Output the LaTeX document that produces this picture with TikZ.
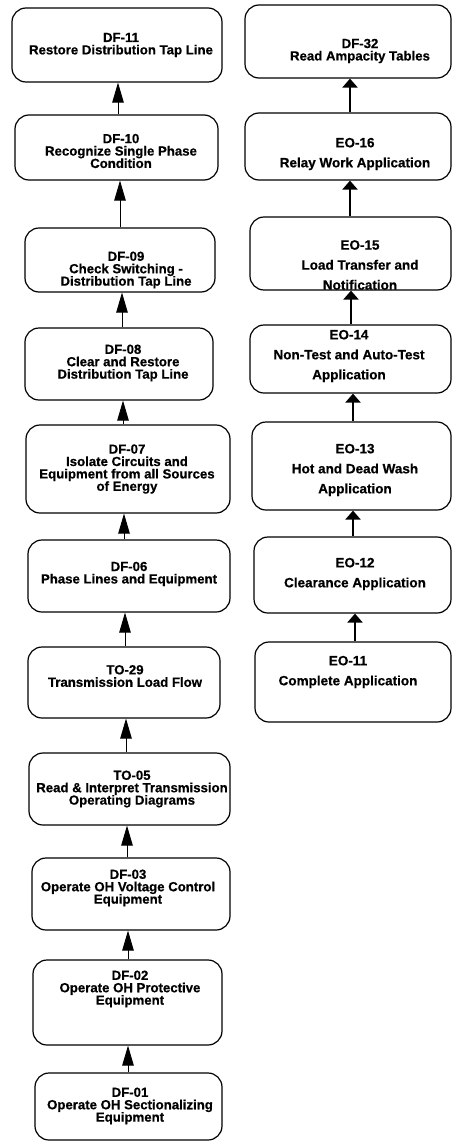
\documentclass[tikz,border=0pt]{standalone}
\usepackage{fontspec}
\setmainfont{Liberation Sans}[BoldFeatures={FakeBold=0.6}]
\usetikzlibrary{arrows.meta,fit}
\begin{document}
\begin{tikzpicture}[x=1pt,y=-1pt,
  stepbox/.style={draw, line width=1.2pt, rounded corners=14pt, inner sep=0pt},
  steptext/.style={align=center, inner sep=0pt, font=\bfseries\fontsize{13.2}{12.4}\selectfont},
  eotext/.style={align=center, inner sep=0pt, font=\bfseries\fontsize{13.5}{20}\selectfont},
  thinup/.style={line width=0.9pt, -{Triangle[length=20pt,width=11.5pt]}},
  thickup/.style={line width=2.8pt, -{Triangle[length=9pt,width=15pt]}},
]
\useasboundingbox (0,0) rectangle (453,1143);

% left column: DF / TO sequence
\node[stepbox, fit={(12,8) (222,82)}]     (DF11) {};
\node[stepbox, fit={(15,115) (218,180)}]  (DF10) {};
\node[stepbox, fit={(25,228) (215,292)}]  (DF09) {};
\node[stepbox, fit={(25,328) (213,400)}]  (DF08) {};
\node[stepbox, fit={(26,425) (230,513)}]  (DF07) {};
\node[stepbox, fit={(28,540) (230,612)}]  (DF06) {};
\node[stepbox, fit={(28,647) (220,718)}]  (TO29) {};
\node[stepbox, fit={(29,753) (230,825)}]  (TO05) {};
\node[stepbox, fit={(32,858) (230,930)}]  (DF03) {};
\node[stepbox, fit={(33,960) (222,1045)}] (DF02) {};
\node[stepbox, fit={(35,1073) (222,1140)}] (DF01) {};

\node[steptext] (DF11t) at (121,45)  {DF-11\\Restore Distribution Tap Line};
\node[steptext] (DF10t) at (121,151) {DF-10\\Recognize Single Phase\\Condition};
\node[steptext] (DF09t) at (126,270) {DF-09\\Check Switching -\\Distribution Tap Line};
\node[steptext] (DF08t) at (123,363) {DF-08\\Clear and Restore\\Distribution Tap Line};
\node[steptext] (DF07t) at (127,469) {DF-07\\Isolate Circuits and\\Equipment from all Sources\\of Energy};
\node[steptext] (DF06t) at (129,574) {DF-06\\Phase Lines and Equipment};
\node[steptext] (TO29t) at (125,676) {TO-29\\Transmission Load Flow};
\node[steptext] (TO05t) at (132,789) {TO-05\\Read \& Interpret Transmission\\Operating Diagrams};
\node[steptext] (DF03t) at (128,888) {DF-03\\Operate OH Voltage Control\\Equipment};
\node[steptext] (DF02t) at (130,989) {DF-02\\Operate OH Protective\\Equipment};
\node[steptext] (DF01t) at (130,1106) {DF-01\\Operate OH Sectionalizing\\Equipment};

\draw[thinup] (DF10.north -| 118,0) -- (DF11.south -| 118,0);
\draw[thinup] (DF09.north -| 120,0) -- (DF10.south -| 120,0);
\draw[thinup] (DF08.north -| 122,0) -- (DF09.south -| 122,0);
\draw[thinup] (DF07.north -| 123,0) -- (DF08.south -| 123,0);
\draw[thinup] (DF06.north -| 124,0) -- (DF07.south -| 124,0);
\draw[thinup] (TO29.north -| 125,0) -- (DF06.south -| 125,0);
\draw[thinup] (TO05.north -| 126,0) -- (TO29.south -| 126,0);
\draw[thinup] (DF03.north -| 127,0) -- (TO05.south -| 127,0);
\draw[thinup] (DF02.north -| 128,0) -- (DF03.south -| 128,0);
\draw[thinup] (DF01.north -| 128,0) -- (DF02.south -| 128,0);

% right column: EO sequence
\node[stepbox, fit={(245,5) (451,78)}]    (DF32) {};
\node[stepbox, fit={(245,113) (451,180)}] (EO16) {};
\node[stepbox, fit={(250,217) (451,290)}] (EO15) {};
\node[stepbox, fit={(250,325) (451,393)}] (EO14) {};
\node[stepbox, fit={(252,422) (451,510)}] (EO13) {};
\node[stepbox, fit={(254,537) (451,613)}] (EO12) {};
\node[stepbox, fit={(255,642) (451,722)}] (EO11) {};

\node[steptext] (DF32t) at (360,51)  {DF-32\\Read Ampacity Tables};
\node[eotext]   (EO16t) at (355,154) {EO-16\\Relay Work Application};
\node[eotext]   (EO15t) at (360,265) {EO-15\\Load Transfer and\\Notification};
\node[eotext]   (EO14t) at (349,356) {EO-14\\Non-Test and Auto-Test\\Application};
\node[eotext]   (EO13t) at (355,470) {EO-13\\Hot and Dead Wash\\Application};
\node[eotext]   (EO12t) at (355,574) {EO-12\\Clearance Application};
\node[eotext]   (EO11t) at (348,672) {EO-11\\Complete Application};

\draw[thickup] (EO16.north -| 350,0) -- (DF32.south -| 350,0);
\draw[thickup] (EO15.north -| 350,0) -- (EO16.south -| 350,0);
\draw[thickup] (EO14.north -| 351,0) -- (EO15.south -| 351,0);
\draw[thickup] (EO13.north -| 353,0) -- (EO14.south -| 353,0);
\draw[thickup] (EO12.north -| 353,0) -- (EO13.south -| 353,0);
\draw[thickup] (EO11.north -| 355,0) -- (EO12.south -| 355,0);
\end{tikzpicture}
\end{document}
